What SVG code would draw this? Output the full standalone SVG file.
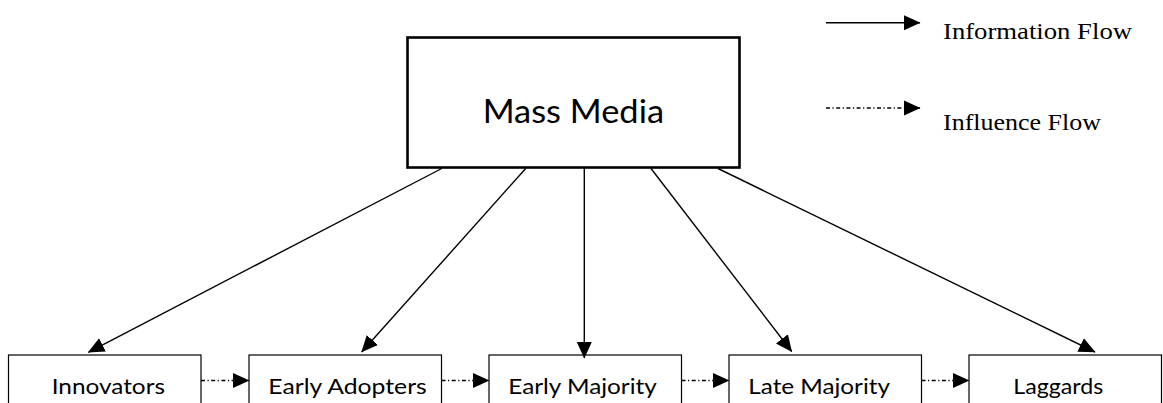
<svg xmlns="http://www.w3.org/2000/svg" width="1163" height="403" viewBox="0 0 1163 403">
  <style>
    .box { fill: #ffffff; stroke: #000000; stroke-width: 1.2; }
    .media { fill: #ffffff; stroke: #000000; stroke-width: 2.6; }
    .label { font-family: Lato, "Open Sans", "Liberation Sans", sans-serif; fill: #000000; }
    .legend { font-family: "Liberation Serif", "Times New Roman", serif; fill: #000000; font-size: 23px; }
    .info { fill: none; stroke: #000000; stroke-width: 1.4; marker-end: url(#head); }
    .influence { fill: none; stroke: #000000; stroke-width: 1.3; stroke-dasharray: 4 2.5 1.2 2.5; marker-end: url(#head); }
  </style>
  <defs>
    <marker id="head" markerUnits="userSpaceOnUse" markerWidth="17" markerHeight="16" viewBox="0 0 17 16" refX="16" refY="8" orient="auto">
      <path d="M0,0.5 L16.5,8 L0,15.5 z" fill="#000000"/>
    </marker>
  </defs>
  <rect width="1163" height="403" fill="#ffffff"/>

  <!-- legend -->
  <g id="legend">
    <line class="info" x1="826" y1="22.7" x2="920" y2="22.7"/>
    <text class="legend" x="943" y="38.5" textLength="189" lengthAdjust="spacingAndGlyphs">Information Flow</text>
    <line class="influence" x1="826" y1="108" x2="920" y2="108"/>
    <text class="legend" x="943" y="129.5" textLength="158" lengthAdjust="spacingAndGlyphs">Influence Flow</text>
  </g>

  <!-- source node -->
  <g id="mass-media">
    <rect class="media" x="407.5" y="37.5" width="332" height="130"/>
    <text class="label" x="482.7" y="122.7" font-size="33" textLength="181.3" lengthAdjust="spacingAndGlyphs">Mass Media</text>
  </g>

  <!-- adopter categories -->
  <g id="innovators">
    <rect class="box" x="8.5" y="355" width="192.5" height="60"/>
    <text class="label" x="51.7" y="394.3" font-size="21.5" textLength="113.3" lengthAdjust="spacingAndGlyphs">Innovators</text>
  </g>
  <g id="early-adopters">
    <rect class="box" x="249" y="355" width="192.5" height="60"/>
    <text class="label" x="268.3" y="394.3" font-size="21.5" textLength="158.5" lengthAdjust="spacingAndGlyphs">Early Adopters</text>
  </g>
  <g id="early-majority">
    <rect class="box" x="489" y="355" width="192.5" height="60"/>
    <text class="label" x="508.3" y="394.3" font-size="21.5" textLength="148.4" lengthAdjust="spacingAndGlyphs">Early Majority</text>
  </g>
  <g id="late-majority">
    <rect class="box" x="729" y="355" width="192.5" height="60"/>
    <text class="label" x="748.3" y="394.3" font-size="21.5" textLength="141.7" lengthAdjust="spacingAndGlyphs">Late Majority</text>
  </g>
  <g id="laggards">
    <rect class="box" x="969" y="355" width="192.5" height="60"/>
    <text class="label" x="1013.3" y="394.3" font-size="21.5" textLength="90" lengthAdjust="spacingAndGlyphs">Laggards</text>
  </g>

  <!-- connectors -->
  <g id="connectors">
    <line class="info" x1="441.7" y1="168.5" x2="88.3" y2="352.3"/>
    <line class="info" x1="525.7" y1="168.5" x2="361.7" y2="352"/>
    <line class="info" x1="584.3" y1="168.5" x2="584.3" y2="358"/>
    <line class="info" x1="651" y1="168.5" x2="791.7" y2="351.5"/>
    <line class="info" x1="718" y1="168.5" x2="1095" y2="352"/>
    <line class="influence" x1="201" y1="380.5" x2="249" y2="380.5"/>
    <line class="influence" x1="441.5" y1="380.5" x2="489" y2="380.5"/>
    <line class="influence" x1="681.5" y1="380.5" x2="729" y2="380.5"/>
    <line class="influence" x1="921.5" y1="380.5" x2="969" y2="380.5"/>
  </g>
</svg>
